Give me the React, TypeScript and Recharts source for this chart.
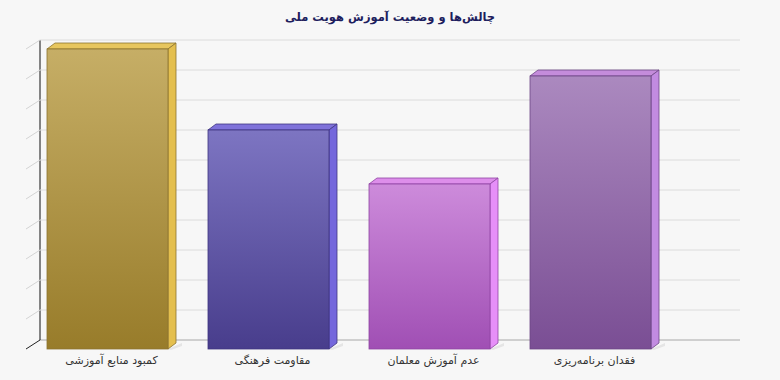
import React from 'react';
import { BarChart, Bar, XAxis, YAxis, CartesianGrid } from 'recharts';

const title = 'چالش‌ها و وضعیت آموزش هویت ملی';
const categories = ['کمبود منابع آموزشی', 'مقاومت فرهنگی', 'عدم آموزش معلمان', 'فقدان برنامه‌ریزی'];
const values = [10, 7.3, 5.5, 9.1];
const yTicks = [0, 1, 2, 3, 4, 5, 6, 7, 8, 9, 10];

const palette = [
  { top: '#c6ae66', bottom: '#987c2a', side: '#e4bf4e', cap: '#e7c65e', edge: '#8c7330' },
  { top: '#7d75c2', bottom: '#483d8c', side: '#7467dc', cap: '#7f72da', edge: '#3f3580' },
  { top: '#cd8bdb', bottom: '#a04fb4', side: '#e68ff8', cap: '#dd8eea', edge: '#8f45a3' },
  { top: '#ab89bf', bottom: '#7a4e94', side: '#c28be1', cap: '#c48cdb', edge: '#6d4685' },
];

const data = categories.map((name, i) => ({ name, value: values[i] }));

const W = 780;
const H = 380;
const TOP = 49;
const PLOT_H = 300;
const LEFT = 27;
const RIGHT = 109;
const WALL_X = 40;
const WALL_RIGHT = 740;
const DEPTH_X = 14;
const DEPTH_Y = 9;
const BAR_DX = 8;
const BAR_DY = 6;
const FONT = '"DejaVu Sans", Tahoma, sans-serif';

const Bar3D = (props: any) => {
  const { x, y, width, height } = props;
  const idx = typeof props.index === 'number' ? props.index : categories.indexOf(props.payload?.name);
  const c = palette[idx] || palette[0];
  const id = `barGrad${idx}`;
  const r = x + width;
  const b = y + height;
  return (
    <g>
      <defs>
        <linearGradient id={id} x1="0" y1="0" x2="0" y2="1">
          <stop offset="0%" stopColor={c.top} />
          <stop offset="100%" stopColor={c.bottom} />
        </linearGradient>
      </defs>
      <polygon
        points={`${r},${b} ${r + BAR_DX + 6},${b - BAR_DY} ${r + BAR_DX + 6},${b - BAR_DY + 3} ${r + 3},${b + 1}`}
        fill="#000"
        opacity={0.07}
      />
      <polygon
        points={`${x},${y} ${r},${y} ${r + BAR_DX},${y - BAR_DY} ${x + BAR_DX},${y - BAR_DY}`}
        fill={c.cap}
        stroke={c.edge}
        strokeWidth={0.8}
        strokeLinejoin="round"
      />
      <polygon
        points={`${r},${y} ${r + BAR_DX},${y - BAR_DY} ${r + BAR_DX},${b - BAR_DY} ${r},${b}`}
        fill={c.side}
        stroke={c.edge}
        strokeWidth={0.8}
        strokeLinejoin="round"
      />
      <rect x={x} y={y} width={width} height={height} fill={`url(#${id})`} stroke={c.edge} strokeWidth={0.8} />
    </g>
  );
};

const gridLine = (p: any) => {
  const y = p.y1;
  const isFloor = Math.abs(y - (TOP + PLOT_H)) < 1;
  const by = y - DEPTH_Y;
  return (
    <g key={p.key}>
      <line x1={WALL_X - DEPTH_X} y1={y} x2={WALL_X} y2={by} stroke={isFloor ? '#222' : '#d4d4d4'} strokeWidth={1} />
      <line x1={WALL_X} y1={by} x2={WALL_RIGHT} y2={by} stroke={isFloor ? '#a8a8a8' : '#dcdcdc'} strokeWidth={1} />
      {isFloor && <line x1={WALL_X} y1={by} x2={WALL_X} y2={by - PLOT_H} stroke="#111" strokeWidth={1} />}
    </g>
  );
};

const XTick = (p: any) => (
  <text
    x={p.x + 4}
    y={p.y}
    dy={7}
    textAnchor="middle"
    fontFamily={FONT}
    fontSize={11}
    fill="#333"
  >
    {p.payload.value}
  </text>
);

export default function App() {
  return (
    <div style={{ position: 'absolute', left: 0, top: 0, width: W, height: H, background: '#f7f7f7' }}>
      <div
        style={{
          position: 'absolute',
          left: 0,
          top: 8,
          width: W,
          height: 18,
          lineHeight: '18px',
          textAlign: 'center',
          fontFamily: FONT,
          fontWeight: 'bold',
          fontSize: 11.5,
          color: '#1e1e5e',
          direction: 'rtl',
        }}
      >
        {title}
      </div>
      <BarChart
        width={W}
        height={H}
        data={data}
        margin={{ top: TOP, left: LEFT, right: RIGHT, bottom: 0 }}
      >
        <CartesianGrid horizontal={gridLine} vertical={false} />
        <YAxis hide domain={[0, 10]} ticks={yTicks} type="number" />
        <XAxis
          dataKey="name"
          height={380 - TOP - PLOT_H}
          axisLine={false}
          tickLine={false}
          interval={0}
          tick={<XTick />}
        />
        <Bar dataKey="value" barSize={121} shape={<Bar3D />} isAnimationActive={false} />
      </BarChart>
    </div>
  );
}
